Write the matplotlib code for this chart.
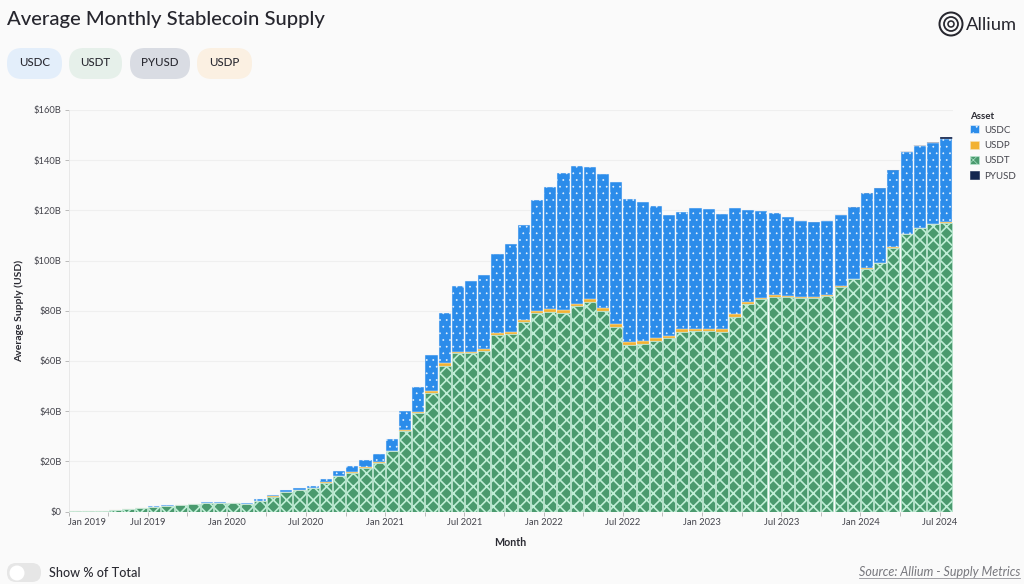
import matplotlib
matplotlib.use("Agg")
import matplotlib.pyplot as plt
import numpy as np
from matplotlib.patches import Circle, FancyBboxPatch, Patch

plt.rcParams["font.family"] = ["Lato", "DejaVu Sans"]

# Jan 2019 .. Jul 2024, $B
usdt = [0.1, 0.1, 0.2, 0.5, 0.9, 1.2, 1.9, 2.2, 2.4, 2.8, 3.4, 3.3,
        3.2, 3.1, 4.2, 5.9, 7.8, 8.5, 9.2, 11.5, 14, 15.5, 17.5, 19.5,
        24, 32, 39.2, 47.3, 58, 63, 63, 64, 70.2, 70.6, 75.5, 79,
        79.7, 79.2, 81.8, 83.5, 80, 73.5, 66.5, 66.7, 68, 69, 71.5, 71.8,
        71.9, 71.6, 77.5, 82.6, 84.5, 85.5, 85.3, 85.1, 85, 85.8, 89.6, 92.5,
        96.8, 98.9, 105.2, 110.6, 112.9, 114.6, 115.1]
usdp = [0, 0, 0, 0, 0, 0, 0, 0, 0, 0, 0, 0,
        0, 0, 0.1, 0.1, 0.1, 0.1, 0.1, 0.1, 0.1, 0.2, 0.2, 0.3,
        0.3, 0.4, 0.5, 0.7, 1, 0.7, 0.7, 0.9, 1, 1, 0.8, 0.9,
        1, 1, 0.9, 1.1, 1.2, 1.2, 1, 1.3, 1, 1, 1.1, 1,
        1, 1, 1.1, 1, 0.7, 0.7, 0.6, 0.5, 0.4, 0.4, 0.2, 0.2,
        0.2, 0.1, 0.1, 0.1, 0.1, 0.1, 0.1]
usdc = [0, 0, 0, 0.1, 0.1, 0.1, 0.2, 0.2, 0.2, 0.2, 0.3, 0.3,
        0.3, 0.3, 0.6, 0.7, 0.5, 0.8, 1, 1.4, 1.9, 2.3, 2.8, 3.2,
        4.7, 7.6, 10, 14.3, 20, 26.1, 28.3, 29.4, 31.3, 34.9, 37.7, 44.1,
        48.7, 54.8, 55.1, 52.8, 53.3, 56.6, 57, 55.4, 52.7, 48.3, 46.9, 48,
        47.6, 46.1, 42.4, 36.4, 34.7, 32.8, 31.3, 30.2, 29.8, 29.6, 28.5, 28.5,
        29.8, 29.8, 30.6, 32.7, 32.8, 32.3, 33.3]
pyusd = [0] * 55 + [0.02, 0.02, 0.02, 0.02, 0.03, 0.03, 0.03, 0.05, 0.05, 0.08, 0.12, 0.7]

tick_months = list(range(0, 67, 3))
tick_labels = ["Jan 2019", "", "Jul 2019", "", "Jan 2020", "", "Jul 2020", "", "Jan 2021", "", "Jul 2021", "",
               "Jan 2022", "", "Jul 2022", "", "Jan 2023", "", "Jul 2023", "", "Jan 2024", "", "Jul 2024"]
y_ticks = [0, 20, 40, 60, 80, 100, 120, 140, 160]
y_labels = ["$0", "$20B", "$40B", "$60B", "$80B", "$100B", "$120B", "$140B", "$160B"]

BG = "#fafafa"
TEXT = "#2b2b33"
W, H = 1024, 584

fig = plt.figure(figsize=(W / 80, H / 80), dpi=80, facecolor=BG)
ax = fig.add_axes([68.5 / W, 1 - 511.5 / H, 884.3 / W, 401.5 / H], facecolor=BG)

# stacked from the bottom: USDT, USDP, USDC, PYUSD
styles = {
    "USDT": dict(color="#4a9a6e", edgecolor="#bfeed6", hatch="xx", linewidth=0.5),
    "USDP": dict(color="#f2b233", edgecolor="#f7e3b5", hatch="", linewidth=0.2),
    "USDC": dict(color="#2b8cea", edgecolor="#eef5fc", hatch="..", linewidth=0.4),
    "PYUSD": dict(color="#14264f", edgecolor="#14264f", hatch="", linewidth=0),
}
# hatch width is picked up from rcParams when a patch is made
hatch_widths = {"USDT": 1.5, "USDP": 0.5, "USDC": 0.4, "PYUSD": 0.5}

x = np.arange(len(usdt))
bottom = np.zeros(len(usdt))
for name, vals in [("USDT", usdt), ("USDP", usdp), ("USDC", usdc), ("PYUSD", pyusd)]:
    plt.rcParams["hatch.linewidth"] = hatch_widths[name]
    bars = ax.bar(x + 0.04, vals, width=0.92, bottom=bottom, align="edge", zorder=3, **styles[name])
    if name == "PYUSD":
        # thin slivers get snapped to a full black pixel otherwise
        for b in bars:
            b.set_snap(False)
    bottom += np.array(vals)

ax.set_xlim(0, 67)
ax.set_ylim(0, 160)
ax.set_yticks(y_ticks)
ax.set_yticklabels(y_labels)
ax.set_xticks(tick_months)
ax.set_xticklabels(tick_labels)
ax.get_xticklabels()[0].set_ha("left")
ax.tick_params(axis="both", labelsize=8.4, labelcolor="#44444c", color="#b5b5b5", length=4, width=0.8, pad=2)
ax.grid(axis="y", color="#efefef", linewidth=1, zorder=0)
for side in ["top", "right", "bottom"]:
    ax.spines[side].set_visible(False)
ax.spines["left"].set_color("#e6e6e6")

handles = []
for n in ["USDC", "USDP", "USDT", "PYUSD"]:
    plt.rcParams["hatch.linewidth"] = hatch_widths[n]
    handles.append(Patch(facecolor=styles[n]["color"], edgecolor=styles[n]["edgecolor"], hatch=styles[n]["hatch"], linewidth=0.5, label=n))
leg = ax.legend(handles=handles, title="Asset", loc="upper left", bbox_to_anchor=(963 / W, 1 - 105 / H),
                bbox_transform=fig.transFigure, frameon=False, fontsize=8.8, handlelength=0.9, handleheight=0.9,
                handletextpad=0.6, labelspacing=0.6, alignment="left", borderpad=0.2, labelcolor="#44444c")
leg.get_title().set_fontsize(8.8)
leg.get_title().set_fontweight("bold")
leg.get_title().set_color(TEXT)
leg._legend_box.sep = 4

# page furniture, in pixel coordinates
page = fig.add_axes([0, 0, 1, 1], zorder=5)
page.set_xlim(0, W)
page.set_ylim(H, 0)
page.axis("off")

page.text(7, 20, "Average Monthly Stablecoin Supply", fontsize=18.2, color="#26262e", va="center", fontweight="medium")
page.text(19, 311, "Average Supply (USD)", fontsize=9.4, color=TEXT, rotation=90, ha="center", va="center", fontweight="bold")
page.text(510, 543, "Month", fontsize=9.6, color=TEXT, ha="center", va="center", fontweight="bold")

pills = [("USDC", 7, 62, "#e3eefa"), ("USDT", 69, 122, "#e6f0ea"), ("PYUSD", 130, 190, "#d9dce3"), ("USDP", 197, 252, "#fbf0e2")]
for label, x0, x1, col in pills:
    page.add_patch(FancyBboxPatch((x0 + 15, 48 + 15), x1 - x0 - 30, 1, boxstyle="round,pad=15", facecolor=col, edgecolor="none"))
    page.text((x0 + x1) / 2, 63, label, fontsize=10.4, color=TEXT, ha="center", va="center", fontweight="medium")

# logo
for r, lw in [(11.5, 1.8), (7, 1.6), (3, 1.4)]:
    page.add_patch(Circle((951, 24), r, facecolor="none", edgecolor="#26262e", linewidth=lw))
page.text(966, 25, "Allium", fontsize=16.5, color="#26262e", va="center")

# toggle
page.add_patch(FancyBboxPatch((16, 572), 16, 1, boxstyle="round,pad=9", facecolor="#e6e6e6", edgecolor="none"))
page.add_patch(Circle((17, 573), 7.5, facecolor="#ffffff", edgecolor="none"))
page.text(49, 573, "Show % of Total", fontsize=11.4, color=TEXT, va="center", fontweight="medium")

page.text(1020, 572, "Source: Allium - Supply Metrics", fontsize=11.3, color="#77777d", ha="right", va="center", style="italic")
page.plot([859, 1020], [578, 578], color="#8a8a90", linewidth=0.7)

fig.savefig("out.png", dpi=80, facecolor=BG)
